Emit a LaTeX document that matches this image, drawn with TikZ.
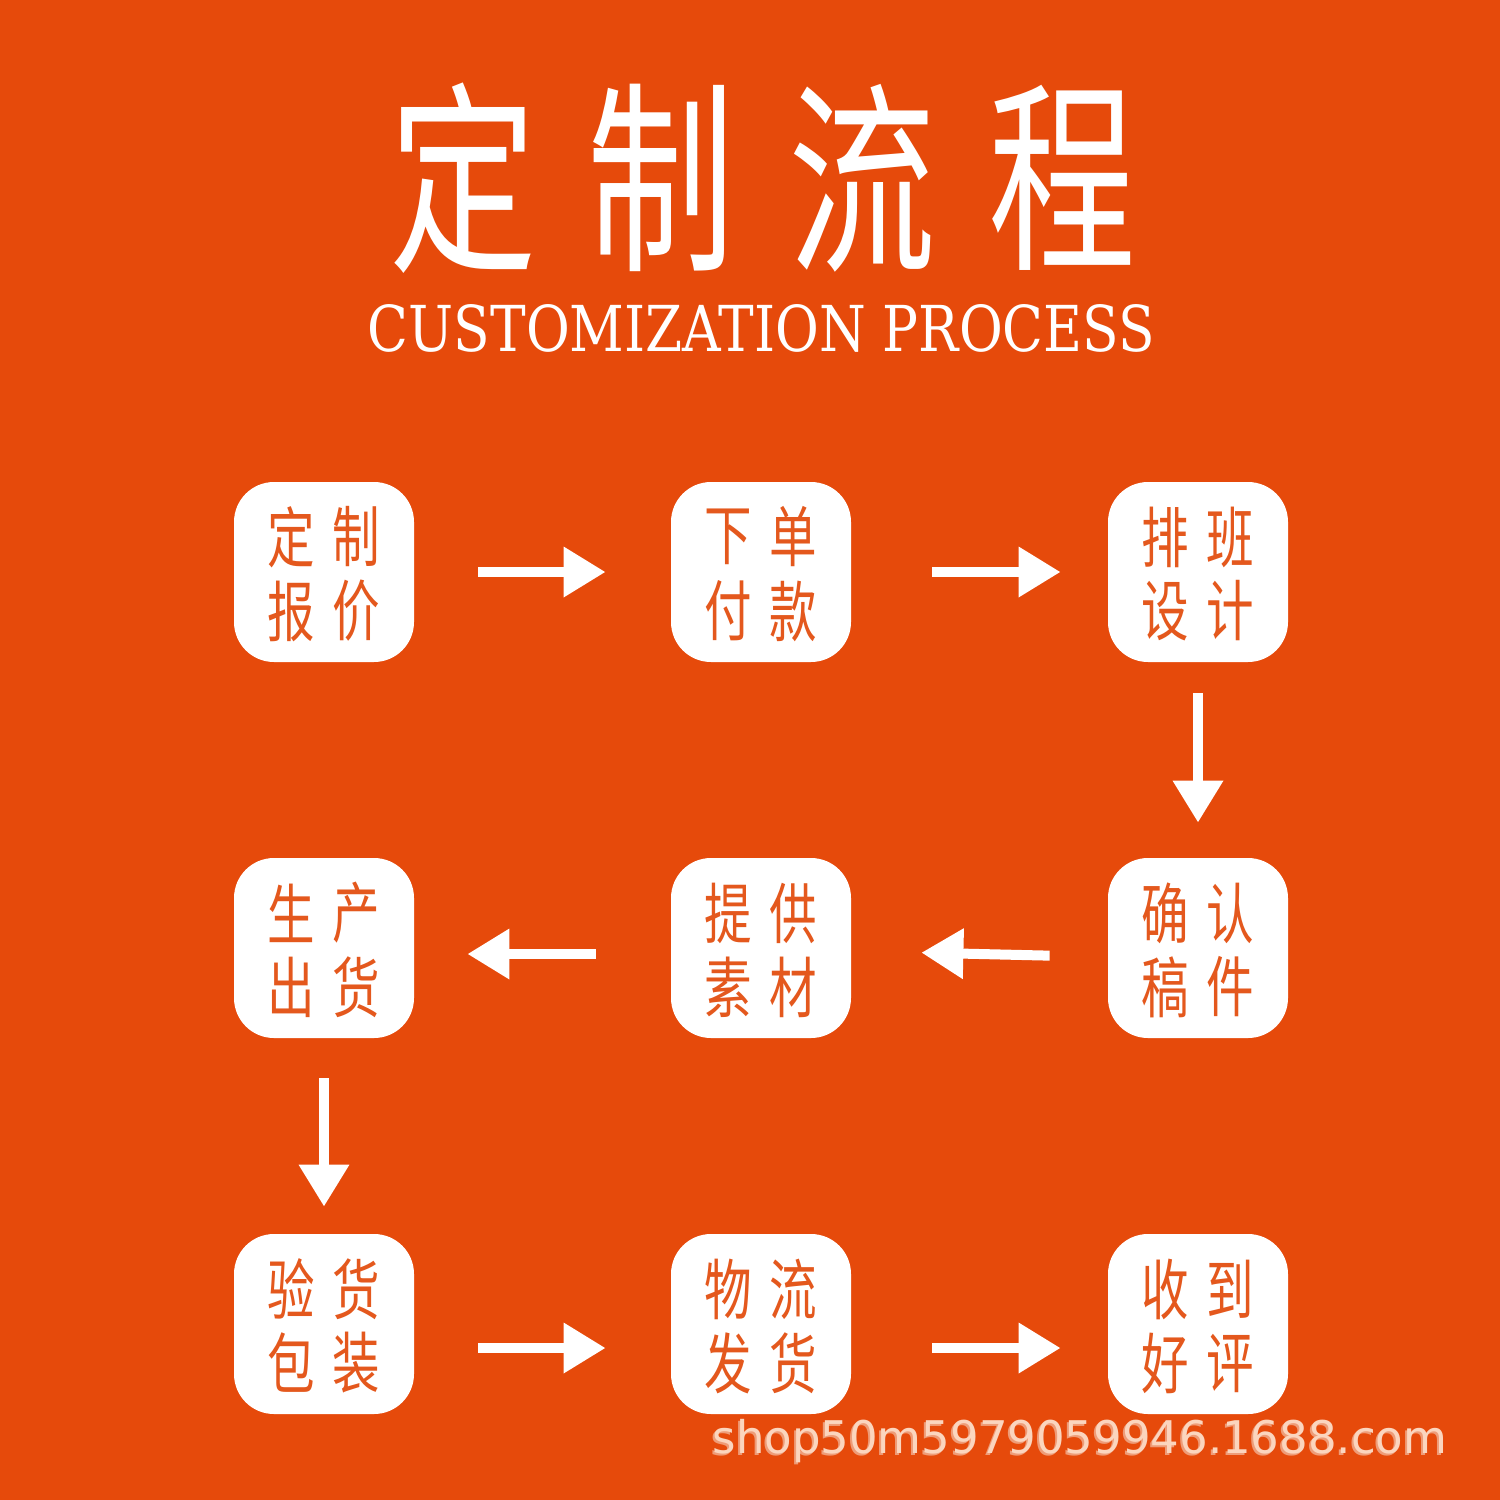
\documentclass[tikz,border=0pt]{standalone}
\usepackage{fontspec}
\usetikzlibrary{arrows.meta}
\newfontfamily\cjk{Noto Sans CJK SC}
\newfontfamily\slab{DejaVu Serif}
\newfontfamily\wmfont{DejaVu Sans}
\definecolor{bg}{HTML}{E64A0B}
\definecolor{tx}{HTML}{E4581D}
\definecolor{wmc}{HTML}{FBD5BE}
\definecolor{wms}{HTML}{EE9C78}
\newcommand\mkbox[7]{%
  \node[stepbox] (#1) at (#2,#3) {};
  \node[ch] (#1-a) at ([shift={(-32.5,-35)}]#1.center) {\scalebox{0.72}[1]{#4}};
  \node[ch] (#1-b) at ([shift={(32.5,-35)}]#1.center) {\scalebox{0.72}[1]{#5}};
  \node[ch] (#1-c) at ([shift={(-32.5,39)}]#1.center) {\scalebox{0.72}[1]{#6}};
  \node[ch] (#1-d) at ([shift={(32.5,39)}]#1.center) {\scalebox{0.72}[1]{#7}};
}
\begin{document}
\begin{tikzpicture}[x=0.5pt,y=-0.5pt,
  stepbox/.style={fill=white, rounded corners=20pt, minimum width=90pt, minimum height=90pt, inner sep=0pt},
  flow/.style={draw=white, line width=5pt, -{Triangle[length=21pt,width=24pt]}},
  ch/.style={inner sep=0pt, text=tx, font=\cjk\fontsize{33}{33}\selectfont},
  tt/.style={inner sep=0pt, text=white, font=\cjk\fontsize{102.5}{102.5}\selectfont}]
\fill[bg] (0,0) rectangle (1500,1500);
\useasboundingbox (0,0) rectangle (1500,1500);
% title
\node[tt] (t1) at (463,178) {\scalebox{0.72}[1]{定}};
\node[tt] (t2) at (661,178) {\scalebox{0.72}[1]{制}};
\node[tt] (t3) at (862,178) {\scalebox{0.72}[1]{流}};
\node[tt] (t4) at (1062,178) {\scalebox{0.72}[1]{程}};
\node[inner sep=0pt, text=white] (sub) at (761.5,328.5) {\resizebox{393.5pt}{23.5pt}{\slab CUSTOMIZATION PROCESS}};
% boxes
\mkbox{b1}{324}{572}{定}{制}{报}{价}
\mkbox{b2}{761}{572}{下}{单}{付}{款}
\mkbox{b3}{1198}{572}{排}{班}{设}{计}
\mkbox{b4}{1198}{948}{确}{认}{稿}{件}
\mkbox{b5}{761}{948}{提}{供}{素}{材}
\mkbox{b6}{324}{948}{生}{产}{出}{货}
\mkbox{b7}{324}{1324}{验}{货}{包}{装}
\mkbox{b8}{761}{1324}{物}{流}{发}{货}
\mkbox{b9}{1198}{1324}{收}{到}{好}{评}
% arrows
\draw[flow, shorten <=32pt, shorten >=32.5pt] (b1.east) -- (b2.west);
\draw[flow, shorten <=40.5pt, shorten >=23.5pt] (b2.east) -- (b3.west);
\draw[flow, shorten <=15.5pt, shorten >=17.5pt] (b3.south) -- (b4.north);
\draw[flow, shorten <=29pt, shorten >=35pt] ([yshift=-4.5pt]b4.west) -- ([yshift=-1.5pt]b5.east);
\draw[flow, shorten <=37.5pt, shorten >=26.5pt] ([yshift=-3pt]b5.west) -- ([yshift=-3pt]b6.east);
\draw[flow, shorten <=20pt, shorten >=13.5pt] (b6.south) -- (b7.north);
\draw[flow, shorten <=32pt, shorten >=32.5pt] ([yshift=-12pt]b7.east) -- ([yshift=-12pt]b8.west);
\draw[flow, shorten <=40.5pt, shorten >=23.5pt] ([yshift=-12pt]b8.east) -- ([yshift=-12pt]b9.west);
% watermark
\node[anchor=base, inner sep=0pt, text=wms, font=\wmfont\fontsize{22.5}{22.5}\selectfont] (wms) at (1078,1455) {shop50m5979059946.1688.com};
\node[anchor=base, inner sep=0pt, text=wmc, font=\wmfont\fontsize{22.5}{22.5}\selectfont] (wm) at (1080,1453) {shop50m5979059946.1688.com};
\end{tikzpicture}
\end{document}
